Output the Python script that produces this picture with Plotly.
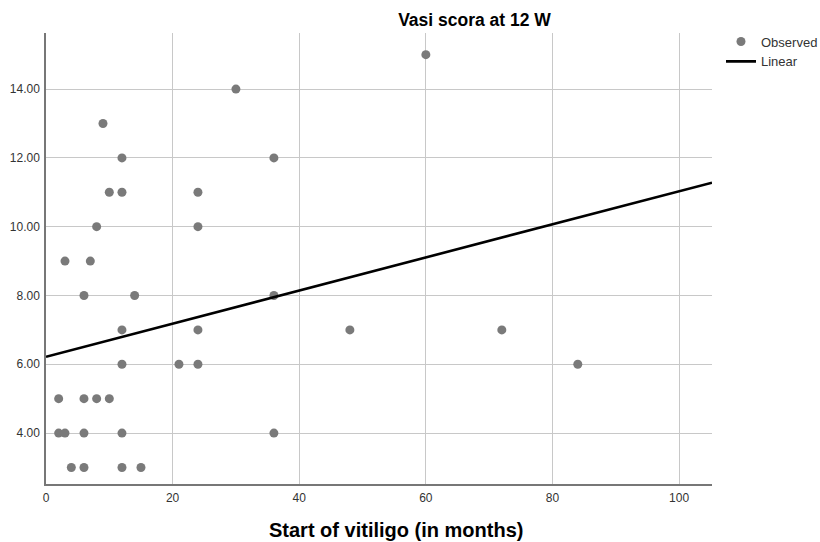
import plotly.graph_objects as go

# Observed data: start of vitiligo (months) vs Vasi score at 12 W
months = [4, 6, 12, 15,
          2, 3, 6, 12, 36,
          2, 6, 8, 10,
          12, 21, 24, 84,
          12, 24, 48, 72,
          6, 14, 36,
          3, 7,
          8, 24,
          10, 12, 24,
          12, 36,
          9,
          30,
          60]
vasi = [3, 3, 3, 3,
        4, 4, 4, 4, 4,
        5, 5, 5, 5,
        6, 6, 6, 6,
        7, 7, 7, 7,
        8, 8, 8,
        9, 9,
        10, 10,
        11, 11, 11,
        12, 12,
        13,
        14,
        15]

# Linear fit
fit_intercept = 6.22
fit_slope = 0.0481

x_range = [0, 105.2]
y_range = [2.52, 15.63]
x_ticks = [0, 20, 40, 60, 80, 100]
y_ticks = [4, 6, 8, 10, 12, 14]

line_x = x_range
line_y = [fit_intercept + fit_slope * v for v in line_x]

W, H = 820, 542
L, R, T, B = 46, 108, 33, 58
PW, PH = W - L - R, H - T - B

fig = go.Figure()
fig.add_trace(go.Scatter(
    x=months, y=vasi, mode="markers", name="Observed",
    marker=dict(color="#7a7a7a", size=9, line=dict(width=0)),
    cliponaxis=False,
))
fig.add_trace(go.Scatter(
    x=line_x, y=line_y, mode="lines", name="Linear",
    line=dict(color="black", width=2.6),
))

font_family = "Liberation Sans, Arial, sans-serif"
fig.update_layout(
    width=W, height=H,
    margin=dict(l=L, r=R, t=T, b=B, autoexpand=False),
    paper_bgcolor="white", plot_bgcolor="white",
    font=dict(family=font_family, color="#333333", size=12),
    title=dict(text="<b>Vasi scora at 12 W</b>", x=(474.5 - L) / PW, xref="paper",
               xanchor="center", y=1 - 19.5 / H, yanchor="middle",
               font=dict(size=17.5, color="black", family=font_family)),
    legend=dict(x=(721 - L) / PW, y=1 + 6.5 / PH, xanchor="left", yanchor="top",
                font=dict(size=13, color="#333333"), itemwidth=30,
                tracegroupgap=0, bgcolor="rgba(0,0,0,0)"),
    showlegend=True,
    annotations=[dict(
        text="<b>Start of vitiligo (in months)</b>", xref="paper", yref="paper",
        x=(395.5 - L) / PW, y=-(530 - (H - B)) / PH, xanchor="center", yanchor="middle",
        showarrow=False, font=dict(size=20, color="black", family=font_family),
    )],
)
fig.update_xaxes(
    range=x_range, tickvals=x_ticks, ticktext=[str(v) for v in x_ticks],
    showgrid=True, gridcolor="#c8c8c8", gridwidth=1,
    showline=True, linecolor="#777777", linewidth=1.5,
    zeroline=False, ticks="", ticklabelstandoff=2,
    tickfont=dict(size=12, color="#333333"),
)
fig.update_yaxes(
    range=y_range, tickvals=y_ticks, ticktext=[f"{v:.2f}" for v in y_ticks],
    showgrid=True, gridcolor="#c8c8c8", gridwidth=1,
    showline=True, linecolor="#777777", linewidth=1.5,
    zeroline=False, ticks="", ticklabelstandoff=2,
    tickfont=dict(size=12, color="#333333"),
)

fig.write_html(
    "out.html",
    config={"displayModeBar": False},
    post_script="document.body.style.margin='0';document.body.style.overflow='hidden';",
)
